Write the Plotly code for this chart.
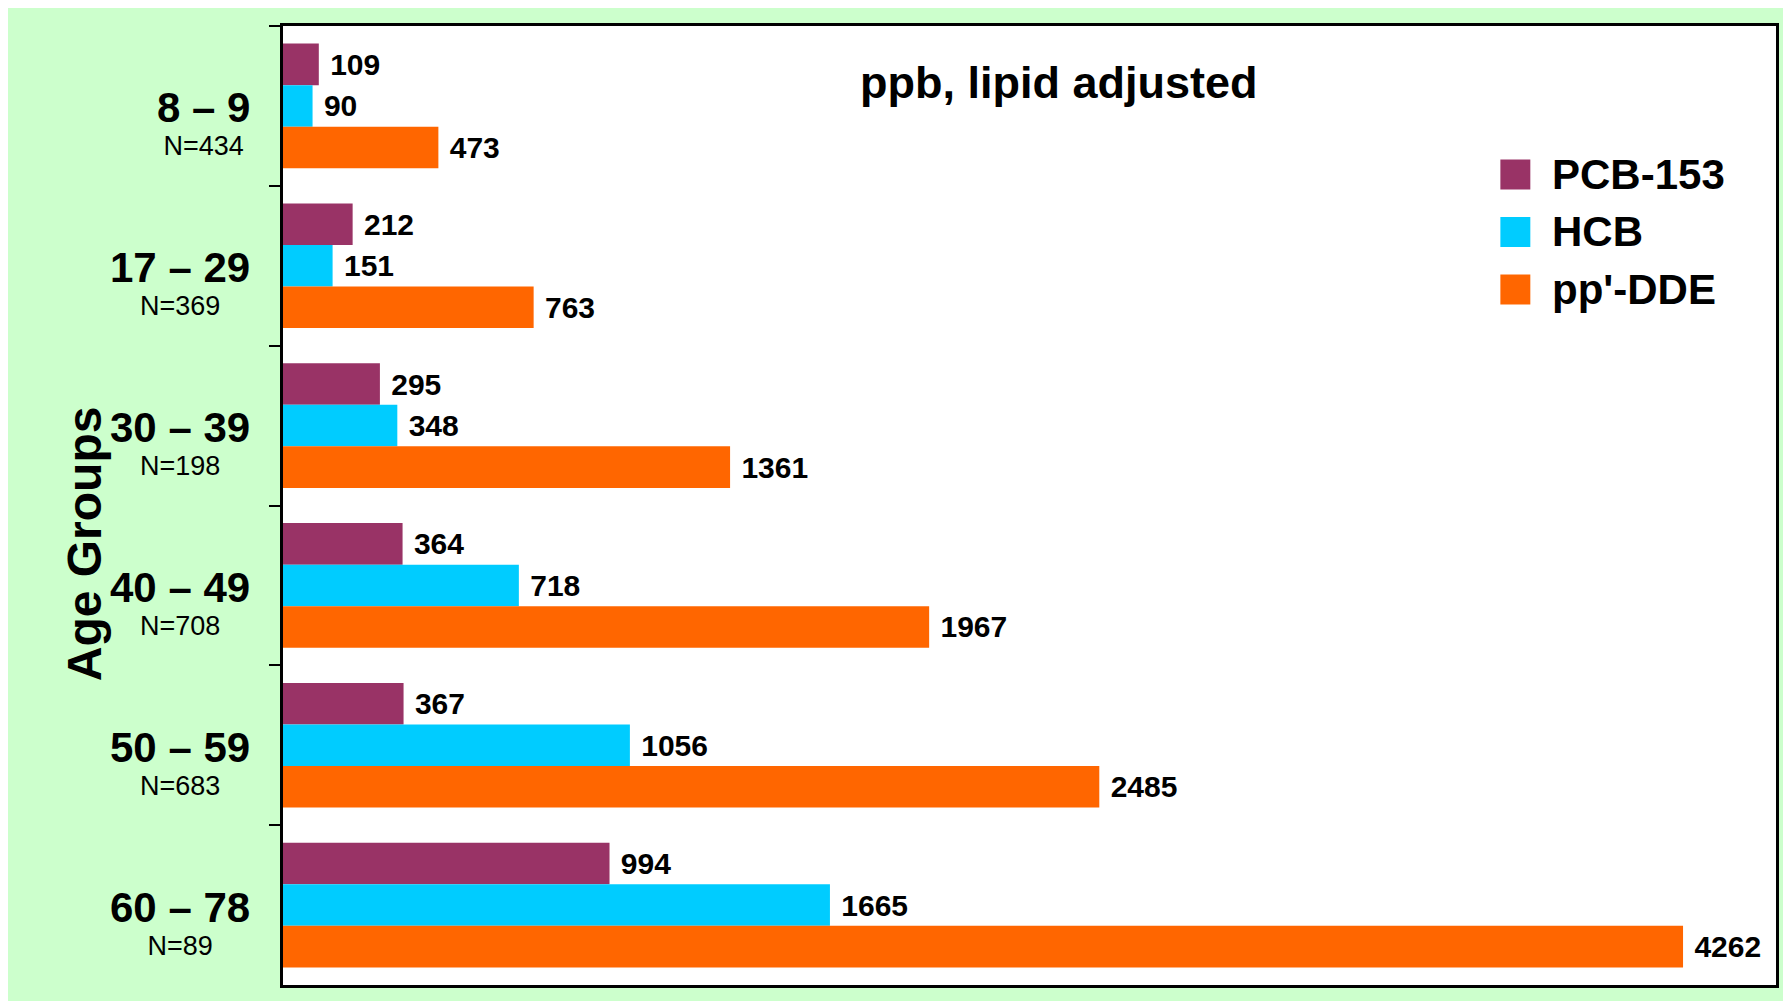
import plotly.graph_objects as go

# data
age_groups = ["8 – 9", "17 – 29", "30 – 39", "40 – 49", "50 – 59", "60 – 78"]
n_sizes = ["N=434", "N=369", "N=198", "N=708", "N=683", "N=89"]
series = ["PCB-153", "HCB", "pp'-DDE"]
pcb153 = [109, 212, 295, 364, 367, 994]
hcb = [90, 151, 348, 718, 1056, 1665]
ppdde = [473, 763, 1361, 1967, 2485, 4262]
colors = ["#993366", "#00CCFF", "#FF6600"]

# the page puts the figure slightly in from the top-left corner
OFFX, OFFY = 8, 5
W, H = 1791 - OFFX, 1001 - OFFY
ML, MR, MT, MB = 275, 13, 18, 19
PW, PH = W - ML - MR, H - MT - MB


def px(x):
    # page pixel -> paper fraction
    return (x - OFFX - ML) / PW


def py(y):
    return (H - MB - (y - OFFY)) / PH


font = "Liberation Sans, Arial, sans-serif"

fig = go.Figure()

for name, vals, col in zip(series, [pcb153, hcb, ppdde], colors):
    fig.add_trace(go.Bar(
        y=age_groups, x=vals, name=name, orientation="h",
        marker=dict(color=col, line=dict(width=0)),
        text=vals, texttemplate="\u00a0%{x}", textposition="outside",
        textfont=dict(family=font, size=30, color="black", weight="bold"),
        constraintext="none", cliponaxis=False, showlegend=False,
    ))

annotations = []
for g, n in zip(age_groups, n_sizes):
    # group name (big, bold) with the sample size underneath
    annotations.append(dict(
        text="<b><span style='font-size:42px'>" + g + "</span></b><br>"
             "<span style='font-size:27px'>" + n + "</span>",
        x=0, xref="paper", y=g, yref="y", align="center",
        xanchor="right", yanchor="middle", xshift=-31, yshift=-17,
        showarrow=False, font=dict(family=font, size=25.4, color="black")))

annotations.append(dict(
    text="<b>Age Groups</b>", x=px(84), xref="paper", y=py(541), yref="paper",
    textangle=-90, xanchor="center", yanchor="middle", showarrow=False,
    font=dict(family=font, size=48, color="black")))

annotations.append(dict(
    text="<b>ppb, lipid adjusted</b>", x=px(1060), xref="paper", y=py(79),
    yref="paper", xanchor="center", yanchor="middle", showarrow=False,
    font=dict(family=font, size=45, color="black")))

# legend drawn by hand to get the large swatches
shapes = []
for i, (name, col) in enumerate(zip(series, colors)):
    yc = 171.5 + i * 57.5
    shapes.append(dict(type="rect", xref="paper", yref="paper",
                       x0=px(1502), x1=px(1532), y0=py(yc + 15), y1=py(yc - 15),
                       fillcolor=col, line=dict(width=0)))
    annotations.append(dict(
        text="<b>" + name + "</b>", x=px(1552), xref="paper", y=py(yc),
        yref="paper", xanchor="left", yanchor="middle", showarrow=False,
        font=dict(family=font, size=42, color="black")))

fig.update_layout(
    width=W, height=H,
    margin=dict(l=ML, r=MR, t=MT, b=MB, pad=0),
    paper_bgcolor="#CCFFCC", plot_bgcolor="white",
    barmode="group", bargap=0.22, bargroupgap=0,
    annotations=annotations, shapes=shapes,
    xaxis=dict(range=[0, 4545], showticklabels=False, showgrid=False,
               zeroline=False, showline=True, linecolor="black", linewidth=2.5,
               mirror=True, ticks=""),
    yaxis=dict(autorange="reversed", showticklabels=False, showgrid=False,
               showline=True, linecolor="black", linewidth=2.5, mirror=True,
               ticks="outside", ticklen=11, tickwidth=2, tickcolor="black",
               tickson="boundaries"),
)

fig.write_html("out.html")
